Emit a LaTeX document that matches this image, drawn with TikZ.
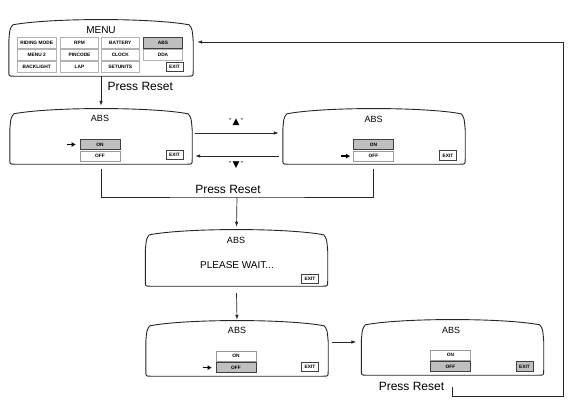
\documentclass[tikz,border=0pt]{standalone}
\usepackage{fontspec}
\setmainfont{Liberation Sans}
\newfontfamily\symfont{DejaVu Sans}
\usetikzlibrary{arrows.meta,calc,positioning}

\tikzset{
  lcd/.style={inner sep=0pt, minimum width=182pt, minimum height=50pt},
  lcdline/.style={draw=black!85, line width=0.9pt},
  cell/.style={draw=black!30, line width=0.6pt, minimum width=38.5pt, minimum height=11pt,
    inner sep=0pt, font=\fontsize{4.8}{5}\selectfont\bfseries},
  hilite/.style={fill=black!25, draw=black!75},
  opt/.style={cell, minimum width=40pt, minimum height=10pt, draw=black!40},
  exitbox/.style={cell, minimum width=17pt, minimum height=9.5pt, draw=black!75},
  title/.style={font=\fontsize{9}{10}\selectfont},
  reset/.style={font=\fontsize{12}{13}\selectfont},
  line/.style={draw=black!85, line width=0.7pt},
  flow/.style={line, -{Latex[length=5pt,width=3.5pt]}},
  pointer/.style={line width=1.3pt, -{Latex[length=4pt,width=5pt]}},
  key/.style={font=\fontsize{7}{8}\selectfont}
}

% outline of a display, drawn round the named node
\newcommand{\lcdframe}[1]{%
  \draw[lcdline] ($(#1.north west)+(4,0)$)
    .. controls ($(#1.north)+(-50,-7)$) and ($(#1.north)+(50,-7)$) .. ($(#1.north east)+(-4,0)$)
    .. controls ($(#1.north east)+(-1,4)$) .. ($(#1.north east)+(0,16)$)
    -- ($(#1.south east)+(0,-5)$) .. controls (#1.south east) .. ($(#1.south east)+(-5,0)$)
    -- ($(#1.south west)+(5,0)$) .. controls (#1.south west) .. ($(#1.south west)+(0,-5)$)
    -- ($(#1.north west)+(0,16)$) .. controls ($(#1.north west)+(1,4)$) .. ($(#1.north west)+(4,0)$);}
\newcommand{\keyglyph}[1]{\raisebox{1pt}{"}\,{\symfont\fontsize{9}{10}\selectfont#1}\,\raisebox{1pt}{"}}

\begin{document}
\begin{tikzpicture}[x=1pt, y=-1pt]
\useasboundingbox (0,0) rectangle (573,405);

% displays
\node[lcd, minimum width=184pt, minimum height=51pt] (menu) at (101,50.5) {};
\node[lcd] (abson) at (101,139) {};
\node[lcd] (absoff) at (374,139) {};
\node[lcd, minimum height=51pt] (wait) at (236.5,260.5) {};
\node[lcd] (pick) at (237,351) {};
\node[lcd] (done) at (452.5,350) {};
\foreach \s in {menu,abson,absoff,wait,pick,done}
  \lcdframe{\s};

% main menu
\node[title, font=\fontsize{10}{11}\selectfont] (menut) at (101,30) {MENU};
\node[cell] (riding) at (36.7,42.5) {RIDING MODE};
\node[cell] (rpm) at (79.5,42.5) {RPM};
\node[cell] (battery) at (120.3,42.5) {BATTERY};
\node[cell, hilite] (abs) at (163,42.5) {ABS};
\node[cell] (menu2) at (36.7,54.5) {MENU 2};
\node[cell] (pincode) at (79.5,54.5) {PINCODE};
\node[cell] (clock) at (120.3,54.5) {CLOCK};
\node[cell] (dda) at (163,54.5) {DDA};
\node[cell] (backlight) at (36.7,66.5) {BACKLIGHT};
\node[cell] (lap) at (79.5,66.5) {LAP};
\node[cell] (setunits) at (120.3,66.5) {SETUNITS};
\node[exitbox] (exit0) at (174.5,67) {EXIT};

% ABS, ON selected
\node[title] (t1) at (100,118.5) {ABS};
\node[opt, hilite] (on1) at (100,144.5) {ON};
\node[opt, below=1pt of on1] (off1) {OFF};
\node[exitbox] (exit1) at (174.5,155) {EXIT};
\draw[pointer] ($(on1.west)+(-13,0)$) -- ($(on1.west)+(-4,0)$);

% ABS, cursor on OFF
\node[title] (t2) at (373.5,119) {ABS};
\node[opt, hilite] (on2) at (373.5,144.5) {ON};
\node[opt, below=1pt of on2] (off2) {OFF};
\node[exitbox] (exit2) at (448,155.5) {EXIT};
\draw[pointer] ($(off2.west)+(-12,0)$) -- ($(off2.west)+(-3,0)$);

% please wait
\node[title] (t3) at (236,240) {ABS};
\node[title, font=\fontsize{10}{11}\selectfont] (busy) at (237,265) {PLEASE WAIT...};
\node[exitbox] (exit3) at (310,279) {EXIT};

% ABS, OFF selected
\node[title] (t4) at (237,330.5) {ABS};
\node[opt] (on3) at (236,356) {ON};
\node[opt, hilite, below=1pt of on3] (off3) {OFF};
\node[exitbox] (exit4) at (310,367) {EXIT};
\draw[pointer] ($(off3.west)+(-13,0)$) -- ($(off3.west)+(-4,0)$);

% ABS, on EXIT
\node[title] (t5) at (451,330) {ABS};
\node[opt] (on4) at (450.5,355) {ON};
\node[opt, hilite, below=1pt of on4] (off4) {OFF};
\node[exitbox, hilite] (exit5) at (524.5,366.5) {EXIT};

% connectors
\draw[flow] (menu.south) -- ([yshift=8pt]abson.north);
\node[reset, anchor=west] (press1) at (104,86) {Press Reset};

\draw[flow, shorten <=3pt, shorten >=4pt] ([yshift=6pt]abson.east) -- ([yshift=6pt]absoff.west);
\draw[flow, shorten <=4pt, shorten >=3pt] ([yshift=-17pt]absoff.west) -- ([yshift=-17pt]abson.east);
\node[key] (up) at (236,122.5) {\keyglyph{▲}};
\node[key] (down) at (236,165.5) {\keyglyph{▼}};

\coordinate (join) at (237,197);
\draw[line] ([yshift=-5pt]abson.south) |- (join) -| ([shift={(-1,5)}]absoff.south);
\draw[flow] (join) -- ([yshift=8pt]wait.north);
\node[reset] (press2) at (228,189.5) {Press Reset};

\draw[flow] ([yshift=-7pt]wait.south) -- ([yshift=6pt]pick.north);
\draw[flow] ([shift={(4,-9)}]pick.east) -- ([shift={(-5,-8)}]done.west);

\node[reset] (press3) at (411.5,386) {Press Reset};
\coordinate (back) at (563,396);
\draw[flow] ([yshift=-12pt]done.south) |- (back) |- ([shift={(4,-8.5)}]menu.east);
\end{tikzpicture}
\end{document}
